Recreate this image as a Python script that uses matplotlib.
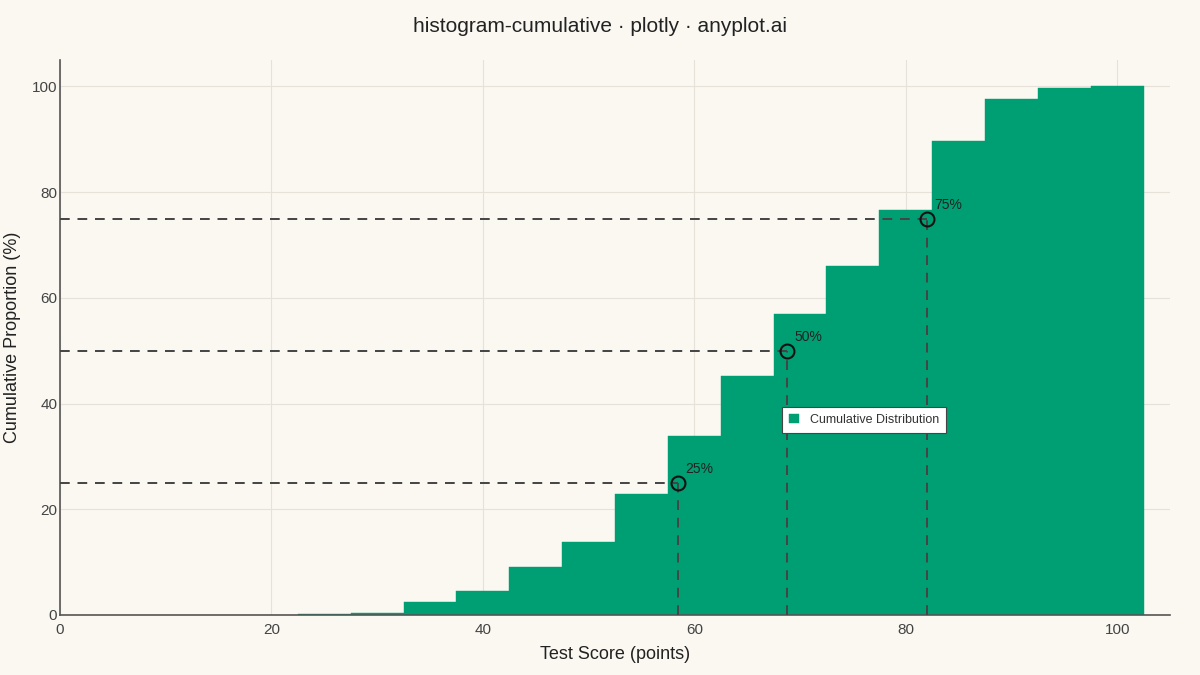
import matplotlib
matplotlib.use("Agg")
import matplotlib.pyplot as plt
import numpy as np

plt.rcParams['font.family'] = ['Liberation Sans', 'DejaVu Sans']

bin_centers = [25, 30, 35, 40, 45, 50, 55, 60, 65, 70, 75, 80, 85, 90, 95, 100]
cumulative = [0.1, 0.3, 2.4, 4.5, 9.1, 13.8, 22.9, 33.9, 45.3, 57.0, 66.1, 76.7, 89.6, 97.7, 99.8, 100.0]
bin_width = 5
pct_levels = [25, 50, 75]
pct_scores = [58.5, 68.8, 82.0]
pct_labels = ["25%", "50%", "75%"]

bg = "#FAF8F1"
green = "#009E73"
fig = plt.figure(figsize=(12, 6.75), dpi=100, facecolor=bg)
ax = fig.add_axes([0.05, 0.089, 0.925, 0.822], facecolor=bg)

ax.bar(bin_centers, cumulative, width=bin_width, color=green, edgecolor=green,
       linewidth=0.3, label="Cumulative Distribution", zorder=2)

for lvl, sc, lab in zip(pct_levels, pct_scores, pct_labels):
    ax.plot([0, sc], [lvl, lvl], ls=(0, (5, 4)), color="#444444", lw=1.4, zorder=3)
    ax.plot([sc, sc], [0, lvl], ls=(0, (5, 4)), color="#444444", lw=1.4, zorder=3)
    ax.plot([sc], [lvl], marker="o", ms=10, mfc="none", mec="#111111", mew=1.5, zorder=4)
    ax.annotate(lab, (sc, lvl), xytext=(5, 7), textcoords="offset points",
                fontsize=10, color="#222222", zorder=5)

ax.set_xlim(0, 105)
ax.set_ylim(0, 105)
ax.set_xticks([0, 20, 40, 60, 80, 100])
ax.set_yticks([0, 20, 40, 60, 80, 100])
ax.grid(True, color="#E6E2DA", lw=0.8, zorder=0)
ax.set_axisbelow(True)
for s in ["top", "right"]:
    ax.spines[s].set_visible(False)
for s in ["left", "bottom"]:
    ax.spines[s].set_color("#555555")
    ax.spines[s].set_linewidth(1.2)
ax.tick_params(axis="x", length=0, labelsize=11, colors="#444444", pad=6)
ax.tick_params(axis="y", length=0, labelsize=11, colors="#444444", pad=2)

ax.set_xlabel("Test Score (points)", fontsize=13, color="#222222", labelpad=6)
ax.set_ylabel("Cumulative Proportion (%)", fontsize=13, color="#222222", va="center")
ax.yaxis.set_label_coords(-0.043, 0.5)
fig.suptitle("histogram-cumulative · plotly · anyplot.ai", fontsize=15, color="#222222", y=0.975)

leg = ax.legend(loc="upper left", bbox_to_anchor=(0.645, 0.386), fontsize=9,
                frameon=True, fancybox=False, handlelength=0.8, handleheight=0.8,
                borderpad=0.55, handletextpad=0.9, labelcolor="#333333", framealpha=1)
leg.get_frame().set_facecolor("white")
leg.get_frame().set_edgecolor("#444444")
leg.get_frame().set_linewidth(0.8)
leg.set_zorder(6)

fig.savefig("out.png", dpi=100, facecolor=bg)
